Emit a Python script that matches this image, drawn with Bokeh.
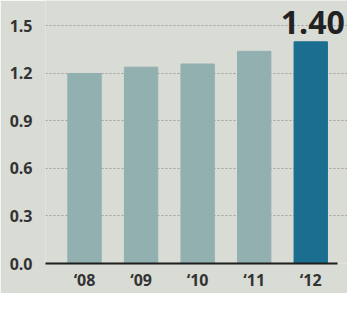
from bokeh.plotting import figure
from bokeh.models import ColumnDataSource, FixedTicker, Range1d, PrintfTickFormatter
from bokeh.core.properties import value
from bokeh.embed import file_html
from bokeh.resources import INLINE

years = ["\u201808", "\u201809", "\u201810", "\u201811", "\u201812"]
values = [1.20, 1.24, 1.26, 1.34, 1.40]
colors = ["#92b0b0", "#92b0b0", "#92b0b0", "#92b0b0", "#1b6e8f"]
y_ticks = [0.0, 0.3, 0.6, 0.9, 1.2, 1.5]
highlight_label = "1.40"

xs = list(range(len(years)))
src = ColumnDataSource(dict(x=xs, top=values, color=colors, year=years))

bg = "#d9dbd5"
p = figure(width=347, height=293, output_backend="svg", toolbar_location=None,
           x_range=Range1d(-0.69, 4.65), y_range=Range1d(0, 1.661),
           min_border_left=45, min_border_right=0, min_border_top=0, min_border_bottom=28)
p.background_fill_color = bg
p.border_fill_color = bg
p.outline_line_color = None

p.vbar(x="x", top="top", width=0.59, color="color", source=src)

last = len(values) - 1
p.text(x=[xs[last]], y=[values[last]], text=[highlight_label],
       text_align="center", text_baseline="bottom", y_offset=-8, x_offset=2,
       text_font=value("Open Sans"), text_font_style="bold",
       text_font_size="32px", text_color="#222222")

# axes
p.yaxis.ticker = FixedTicker(ticks=y_ticks)
p.yaxis.formatter = PrintfTickFormatter(format="%.1f")
p.yaxis.axis_line_color = None
p.yaxis.major_tick_line_color = None
p.yaxis.minor_tick_line_color = None
p.yaxis.major_tick_out = 0
p.yaxis.major_tick_in = 0
p.yaxis.minor_tick_out = 0
p.yaxis.major_label_standoff = 13
p.yaxis.major_label_text_font = "Open Sans"
p.yaxis.major_label_text_font_style = "bold"
p.yaxis.major_label_text_font_size = "16px"
p.yaxis.major_label_text_color = "#333333"

p.xaxis.ticker = FixedTicker(ticks=xs)
p.xaxis.major_label_overrides = {x: y for x, y in zip(xs, years)}
p.xaxis.bounds = (-0.69, 4.48)
p.xaxis.axis_line_color = "#1e1e1e"
p.xaxis.axis_line_width = 2
p.xaxis.major_tick_line_color = None
p.xaxis.minor_tick_line_color = None
p.xaxis.major_tick_out = 0
p.xaxis.major_tick_in = 0
p.xaxis.minor_tick_out = 0
p.xaxis.major_label_standoff = 5
p.xaxis.major_label_text_font = "Open Sans"
p.xaxis.major_label_text_font_style = "bold"
p.xaxis.major_label_text_font_size = "16px"
p.xaxis.major_label_text_color = "#333333"

p.xgrid.grid_line_color = None
p.ygrid.grid_line_color = "#555555"
p.ygrid.grid_line_alpha = 0.45
p.ygrid.grid_line_dash = "2 2"
p.ygrid.grid_line_width = 1

open("out.html", "w").write(file_html(p, INLINE))
